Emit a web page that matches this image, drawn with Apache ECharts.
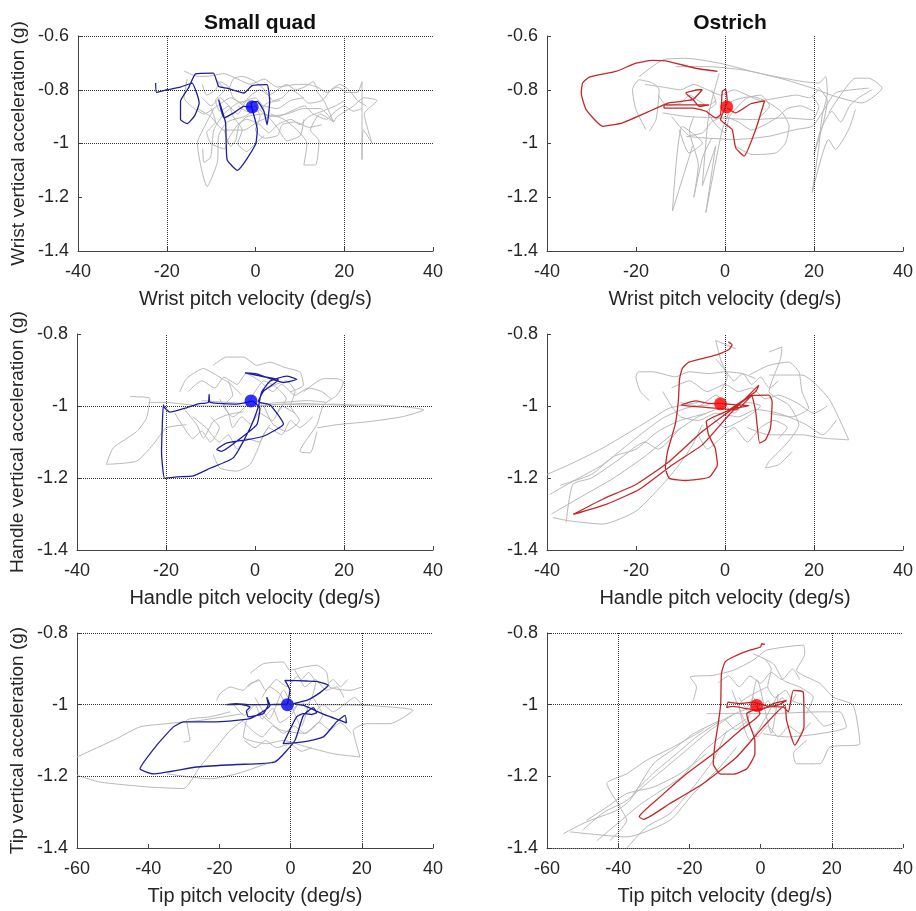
<!DOCTYPE html>
<html>
<head>
<meta charset="utf-8">
<script src="https://cdn.jsdelivr.net/npm/echarts@6/dist/echarts.min.js"></script>
<style>
  html, body { margin: 0; padding: 0; background: #fff; }
  #chart { width: 916px; height: 911px; }
</style>
</head>
<body>
<div id="chart"></div>
<script>
// panel order: wrist quad, wrist ostrich, handle quad, handle ostrich, tip quad, tip ostrich
var columnTitles = ['Small quad', 'Ostrich'];
var yNames = ['Wrist vertical acceleration (g)', 'Handle vertical acceleration (g)', 'Tip vertical acceleration (g)'];
var xNames = ['Wrist pitch velocity (deg/s)', 'Handle pitch velocity (deg/s)', 'Tip pitch velocity (deg/s)'];
var xMin = [-40, -40, -60];
var xMax = [40, 40, 40];
var yMin = [-1.4, -1.4, -1.4];
var yMax = [-0.6, -0.8, -0.8];

// dotted reference lines per panel
var refX = [[-20, 20], [0, 20], [-20, 20], [0, 20], [0, 20], [-40, 20]];
var refY = [[-0.6, -0.8, -1], [], [-1, -1.2], [], [-0.8, -1, -1.2], [-0.8, -1, -1.4]];

// mean point per panel
var meanPts = [[-0.75, -0.864], [0.4, -0.864], [-0.9, -0.986], [-1, -0.994], [-0.9, -1.0], [-1.1, -1.002]];

// highlighted trials
var wristQuad = [[-22.5,-0.775],[-22.3,-0.81],[-19.9,-0.80],[-16.9,-0.79],[-14.3,-0.775],[-13.3,-0.81],[-12.7,-0.85],[-13.7,-0.896],[-15.4,-0.926],[-16.9,-0.911],[-16.9,-0.843],[-15,-0.79],[-13.5,-0.741],[-9.5,-0.738],[-8.3,-0.788],[-6.4,-0.794],[-2.6,-0.812],[-0.75,-0.785],[2.6,-0.781],[3.2,-0.843],[2.6,-0.93],[1.9,-0.88],[0.4,-0.843],[-1,-0.85],[0.4,-0.948],[0,-1.004],[-4.1,-1.10],[-6.4,-1.06],[-6.75,-0.923],[-8.3,-0.837],[-7.1,-0.905],[-4.9,-0.886],[-2.6,-0.862],[-0.7,-0.865]];
var wristOstrich = [[-1.7,-0.732],[-6.6,-0.72],[-12.6,-0.695],[-16.3,-0.691],[-20,-0.701],[-24.5,-0.732],[-30.5,-0.753],[-32,-0.775],[-32.3,-0.812],[-31.2,-0.874],[-27.5,-0.936],[-23,-0.923],[-17.8,-0.886],[-12.6,-0.849],[-7.3,-0.837],[-5.1,-0.80],[-5.8,-0.80],[-8.8,-0.812],[-7,-0.84],[-5.8,-0.862],[-3.6,-0.856],[-7.3,-0.856],[-13.7,-0.856],[-13.7,-0.868],[-7.3,-0.868],[-4.3,-0.88],[-2.1,-0.905],[-1,-0.893],[-0.6,-0.806],[0.15,-0.798],[0.5,-0.843],[-1,-0.911],[1.6,-0.948],[2.4,-1.016],[4.3,-1.047],[6.9,-0.948],[8.9,-0.841],[5.8,-0.852],[2.4,-0.886],[0.5,-0.868]];
var handleQuad = [[-0.5,-0.986],[-4.1,-0.995],[-10.1,-0.99],[-10.3,-0.968],[-10.5,-0.99],[-12.75,-0.994],[-15.4,-1.005],[-19.1,-1.017],[-20.3,-1.005],[-20.6,-0.997],[-21,-1.126],[-20.3,-1.201],[-17.6,-1.197],[-13.9,-1.194],[-10.1,-1.173],[-4.9,-1.144],[-1.1,-1.061],[0.75,-1.002],[1.5,-0.961],[3.4,-0.931],[7.1,-0.917],[9.4,-0.926],[6.4,-0.935],[3.4,-0.924],[0.4,-0.911],[-2.25,-0.908],[0.4,-0.915],[5.25,-0.928],[1.9,-0.959],[0.75,-0.988],[3.4,-0.997],[6.4,-1.05],[1.9,-1.084],[-1.9,-1.094],[-6.4,-1.103],[-8.6,-1.121],[-7.5,-1.126],[-4.1,-1.098],[0.4,-1.052],[1.1,-1.006],[-0.5,-0.986]];
var handleOstrich = [[0.75,-0.822],[1.6,-0.83],[0.9,-0.843],[-2.1,-0.859],[-8.1,-0.878],[-9.6,-0.896],[-10.2,-0.924],[-10.5,-0.988],[-11.2,-1.052],[-12.9,-1.126],[-13.4,-1.172],[-12.5,-1.201],[-8.8,-1.207],[-3.6,-1.198],[-1.7,-1.163],[-2.2,-1.117],[-3.7,-1.08],[-4.2,-1.043],[-0.6,-1.02],[2.4,-1.006],[5.4,-0.999],[2.4,-0.997],[-1,-0.993],[-3.6,-0.993],[-6.6,-0.986],[-9.9,-0.997],[-6.6,-1.002],[-2.1,-1.006],[2.4,-1.011],[5.75,-0.974],[6,-0.97],[6.9,-1.016],[7.8,-1.103],[9.1,-1.094],[10.2,-1.062],[10.6,-0.988],[9.9,-0.97],[6.1,-0.971],[2.4,-1.002],[-5.1,-1.071],[-12.5,-1.154],[-20,-1.218],[-27.5,-1.259],[-34.1,-1.301],[-26.7,-1.273],[-19.3,-1.232],[-11.8,-1.163],[-5.1,-1.108],[0.9,-1.025],[7.6,-0.942],[6.9,-0.96],[0.9,-1.011]];
var tipQuad = [[-0.9,-0.999],[-5.8,-1.0],[-11.4,-1.0],[-15.2,-0.997],[-18,-1.0],[-14.2,-0.999],[-11.4,-1.007],[-12.4,-1.018],[-11.9,-1.034],[-7.7,-1.025],[-6.3,-1.0],[-6.7,-0.979],[-5.8,-1.002],[-11.4,-1.039],[-21.7,-1.048],[-30.1,-1.048],[-32.9,-1.062],[-37.6,-1.113],[-42.3,-1.179],[-38.6,-1.193],[-26.4,-1.174],[-15.2,-1.167],[-4.4,-1.16],[1.2,-1.1],[3.6,-1.03],[6.4,-1.008],[7.3,-1.023],[5.4,-1.027],[3.6,-1.025],[1.7,-1.034],[-2.1,-1.109],[3.6,-1.104],[9.2,-1.09],[12.9,-1.048],[15.3,-1.03],[15.7,-1.051],[13.9,-1.044],[10.1,-1.03],[6.4,-1.014],[3.6,-1.002],[0.75,-0.997],[4.5,-0.988],[8.2,-0.967],[10.6,-0.946],[7.3,-0.935],[4.5,-0.934],[-1.6,-0.932],[-0.2,-0.96],[-0.9,-0.999]];
var tipOstrich = [[1.2,-0.832],[0.3,-0.83],[0,-0.839],[-3,-0.848],[-7.7,-0.867],[-10,-0.881],[-11,-0.913],[-11.2,-0.997],[-11.9,-1.053],[-12.8,-1.109],[-13.3,-1.165],[-11.4,-1.193],[-7.7,-1.194],[-3.9,-1.179],[-1.6,-1.137],[-1.6,-1.1],[-3.2,-1.053],[-3.9,-1.025],[-2.1,-1.016],[1.7,-1.008],[5.4,-0.999],[7.3,-0.988],[3.6,-0.997],[-0.2,-1.016],[-3.9,-1.011],[-7.7,-1.005],[-9.5,-1.008],[-9.1,-0.993],[-5.8,-0.997],[-2.1,-0.993],[2.2,-1.005],[6.4,-1.007],[7.8,-1.02],[9.2,-0.96],[12,-0.965],[12.2,-1.062],[9.6,-1.113],[7.3,-1.044],[6.8,-1.002],[0.75,-1.062],[-6.7,-1.146],[-16.1,-1.22],[-25.5,-1.276],[-32.9,-1.32],[-34.1,-1.313],[-28.3,-1.258],[-20.8,-1.193],[-13.3,-1.137],[-5.8,-1.072],[-0.2,-1.025],[-1.1,-1.002]];

// other trials (grey)
var wristQuadGray = [
  [[13.5,-0.80],[15.4,-0.84],[17.6,-0.92],[14.6,-0.89],[12.4,-0.95],[14.3,-0.99],[13.5,-1.08],[10.9,-1.08],[11.6,-1.0],[9.4,-0.95],[6.4,-0.91],[3.4,-0.89]],
  [[19.9,-0.81],[22.9,-0.81],[24,-0.77],[24,-1.06],[24.3,-0.95],[26.3,-1.0],[24.5,-0.89],[27.4,-0.84],[24.4,-0.83],[22.1,-0.86],[18.4,-0.90],[17.6,-0.92]],
  [[-9.4,-0.87],[-12.8,-0.98],[-13.1,-1.0],[-10.9,-1.16],[-8.6,-1.07],[-8.3,-0.97],[-6.4,-0.92],[-2.6,-0.90],[0.4,-0.87]],
  [[-16.1,-0.73],[-13.1,-0.75],[-10.9,-0.75],[-7.1,-0.74],[-4.1,-0.76],[-1.1,-0.78],[1.9,-0.76],[4.9,-0.79],[9.4,-0.78],[11.6,-0.78],[13.9,-0.79],[16.1,-0.81],[18.4,-0.79],[20.6,-0.81]],
  [[-13.1,-0.87],[-10.1,-0.90],[-7.1,-0.95],[-2.6,-0.95],[0.4,-0.92],[3.4,-0.90],[7.1,-0.89],[10.9,-0.87],[14.6,-0.87],[17.6,-0.92]],
  [[-11.9,-1.02],[-11.6,-1.07],[-10.1,-1.05],[-9.4,-0.95],[-7.1,-0.89],[-4.1,-0.85],[-1.1,-0.84],[1.9,-0.86],[4.9,-0.87],[7.9,-0.84],[10.9,-0.83]],
  [[-15.4,-0.76],[-16.1,-0.83],[-14.6,-0.86],[-11.6,-0.89],[-8.6,-0.86],[-5.6,-0.83],[-2.6,-0.86],[0.4,-0.88],[2.6,-0.85],[5.6,-0.84]],
  [[-7.1,-0.95],[-5.6,-1.01],[-4.5,-0.99],[-3.7,-0.93],[-1.9,-0.90],[1.9,-0.89],[4.9,-0.94],[7.1,-0.99],[10.1,-0.97],[10.9,-0.91]],
  [[-12,-0.78],[-11,-0.82],[-9,-0.80],[-8,-0.77],[-6,-0.79],[-5,-0.83],[-3,-0.85],[-1,-0.82],[1,-0.80],[3,-0.82],[5,-0.80],[7,-0.78],[9,-0.80],[11,-0.79],[13,-0.77],[14,-0.80]],
  [[-10,-0.87],[-9,-0.92],[-11,-0.96],[-10,-1.0],[-7,-1.02],[-6,-0.98],[-4,-0.93],[-2,-0.91],[1,-0.93],[3,-0.96],[5,-0.93],[8,-0.91],[10,-0.93],[12,-0.90],[15,-0.88],[18,-0.86],[20,-0.84]],
  [[-6,-0.80],[-5,-0.76],[-3,-0.75],[0,-0.77],[2,-0.80],[4,-0.84],[6,-0.83],[8,-0.80],[10,-0.82],[12,-0.85],[15,-0.84],[17,-0.80],[19,-0.78],[21,-0.80],[23,-0.84],[25,-0.86]],
  [[-4,-0.86],[-2,-0.88],[0,-0.86],[2,-0.89],[5,-0.90],[8,-0.88],[11,-0.86],[13,-0.89],[16,-0.91],[18,-0.88],[20,-0.86],[22,-0.88],[24,-0.87]],
  [[-12,-0.83],[-10,-0.86],[-8,-0.83],[-6,-0.86],[-4,-0.89],[-2,-0.84],[0,-0.83],[2,-0.87]],
  [[0,-0.86],[1,-0.90],[0,-0.95],[2,-0.98],[5,-0.97],[6,-0.93],[9,-0.92],[12,-0.94],[15,-0.93]],
  [[-9,-0.76],[-7,-0.80],[-9,-0.84],[-8,-0.88],[-6,-0.86],[-5,-0.90],[-3,-0.95],[-4,-1.0],[-2,-1.03],[0,-1.0],[2,-0.97]]
];
var wristOstrichGray = [
  [[-19.3,-0.751],[-14,-0.689],[-8.8,-0.683],[-1.3,-0.701],[6.1,-0.732],[13.6,-0.763],[19.6,-0.794],[24.8,-0.825],[30.8,-0.849],[35.3,-0.794],[32.3,-0.757],[29.3,-0.757],[26.3,-0.812],[23.3,-0.886]],
  [[-11.1,-0.714],[-3.6,-0.714],[3.9,-0.726],[11.4,-0.751],[17.3,-0.769],[21.1,-0.775],[22.6,-0.751],[23,-0.812],[21.8,-0.899],[21.1,-1.01],[19.6,-1.183],[23.3,-0.985],[24.8,-1.022],[27.8,-0.948],[29.3,-0.874]],
  [[-17.8,-0.948],[-20,-0.874],[-20.8,-0.8],[-19.3,-0.763],[-16.3,-0.775],[-14.8,-0.8],[-15.5,-0.911],[-17,-0.954]],
  [[-1.3,-0.738],[-3.6,-0.886],[-5.1,-1.158],[-2.1,-1.01],[-4.3,-1.257],[-0.6,-0.948],[0.9,-0.886]],
  [[-10.3,-0.948],[-8.1,-1.035],[-5.1,-0.998],[-9.6,-0.936],[-11.8,-1.251],[-7.3,-1.01]],
  [[-8.8,-0.973],[-5.1,-0.979],[2.4,-0.985],[9.9,-0.973],[15.9,-0.948],[19.6,-0.936],[21.8,-0.886],[24.8,-0.812],[28.6,-0.80],[32.3,-0.794]],
  [[2.4,-1.01],[6.1,-1.041],[11.4,-1.035],[13.6,-0.998],[14.4,-0.936],[12.9,-0.886],[9.9,-0.849],[6.1,-0.825],[2.4,-0.837],[-0.6,-0.862]],
  [[-14,-0.886],[-8.8,-0.899],[-1.3,-0.905],[6.1,-0.911],[13.6,-0.905],[19.6,-0.911],[21.1,-0.862],[19.6,-0.825]],
  [[-18,-0.78],[-14,-0.79],[-10,-0.80],[-7,-0.78],[-4,-0.80],[-1,-0.82],[2,-0.80],[5,-0.82],[8,-0.84],[12,-0.83],[16,-0.82],[19,-0.83],[21,-0.80]],
  [[-12,-0.90],[-10,-0.94],[-8,-0.97],[-5,-0.96],[-3,-0.92],[0,-0.90],[3,-0.92],[6,-0.95],[9,-0.93],[12,-0.90],[14,-0.87],[17,-0.86],[20,-0.88]],
  [[-3,-0.80],[-2,-0.85],[-4,-0.88],[-2,-0.93],[0,-0.96],[1,-0.90],[3,-0.86],[5,-0.83],[8,-0.82],[10,-0.86],[8,-0.90]],
  [[21,-0.79],[23,-0.84],[22,-0.93],[20,-1.04],[21.5,-0.95],[24,-0.88],[26,-0.92],[28,-0.86],[30,-0.83],[33,-0.80]],
  [[-7,-0.90],[-8,-0.95],[-6,-1.08],[-7,-1.20],[-5,-1.05],[-3,-0.98]],
  [[-15,-0.82],[-13,-0.86],[-10,-0.85],[-8,-0.82],[-6,-0.84],[-4,-0.86],[-2,-0.84]]
];
var handleQuadGray = [
  [[0.4,-1.0],[10.9,-0.993],[18.4,-0.997],[25.9,-0.997],[33.4,-1.002],[37.9,-1.011],[33.4,-1.029],[25.9,-1.043],[18.4,-1.052],[13.9,-1.061]],
  [[-28.1,-0.974],[-23.6,-0.979],[-24.4,-1.034],[-26.6,-1.071],[-31.9,-1.117],[-33.4,-1.162],[-26.6,-1.153],[-22.9,-1.107],[-19.9,-1.061],[-15.4,-1.052]],
  [[-9.4,-0.887],[-6.4,-0.864],[-2.6,-0.864],[0.4,-0.887],[3.4,-0.878],[6.4,-0.892],[10.1,-0.906],[10.9,-0.942],[7.9,-0.961]],
  [[-16.9,-0.961],[-15.4,-0.924],[-11.6,-0.896],[-8.6,-0.915],[-5.6,-0.938],[-3,-0.97]],
  [[10.9,-0.961],[15.4,-0.924],[18.4,-0.924],[19.9,-0.933],[18.4,-0.97],[15.4,-0.997],[13.9,-1.052],[10.1,-1.126],[12.4,-1.13],[13.9,-1.071]],
  [[-9.4,-1.135],[-7.9,-1.172],[-4.1,-1.181],[-1.1,-1.162],[0.4,-1.126],[1.9,-1.08],[3.4,-1.052]],
  [[-16.1,-1.006],[-13.1,-1.052],[-11.6,-1.089],[-9.4,-1.043],[-6.4,-1.025],[-2.6,-1.016]],
  [[-12,-0.985],[-6,-0.99],[0,-0.995],[6,-0.99],[12,-0.985],[16,-0.99]],
  [[3,-0.95],[7,-0.93],[9,-0.96],[8,-1.0],[10,-1.04],[7,-1.07],[4,-1.05],[2,-1.0]],
  [[-15,-0.96],[-12,-0.93],[-9,-0.95],[-7,-0.92],[-4,-0.94],[-2,-0.91],[1,-0.93],[4,-0.96],[6,-0.94],[9,-0.97],[12,-0.95],[15,-0.96],[17,-0.98]],
  [[-14,-1.03],[-11,-1.06],[-8,-1.10],[-6,-1.08],[-4,-1.12],[-2,-1.09],[1,-1.10],[3,-1.06],[6,-1.08],[8,-1.04],[10,-1.06],[13,-1.03]],
  [[-8,-0.98],[-6,-1.02],[-5,-1.06],[-3,-1.03],[-1,-1.05],[1,-1.02],[4,-1.04],[6,-1.00],[9,-1.02]],
  [[-24,-0.99],[-20,-0.99],[-16,-0.995],[-12,-1.0],[-6,-1.0],[0,-1.0],[6,-0.995],[12,-0.997],[18,-0.995],[23,-1.0]],
  [[-6,-0.93],[-5,-0.97],[-7,-1.0],[-5,-1.03],[-2,-1.0],[0,-0.96],[2,-0.93],[5,-0.95],[7,-0.98],[5,-1.02]],
  [[-18,-1.02],[-16,-1.06],[-14,-1.09],[-12,-1.07],[-10,-1.10],[-8,-1.06],[-10,-1.03]]
];
var handleOstrichGray = [
  [[-39.4,-1.246],[-34.2,-1.209],[-27.5,-1.163],[-20,-1.089],[-14,-1.034],[-8.8,-1.006],[-3.6,-0.997]],
  [[-38.7,-1.31],[-35,-1.319],[-27.5,-1.328],[-20,-1.292],[-14,-1.218],[-10.3,-1.163],[-7.3,-1.108],[-5.1,-1.052]],
  [[-40,-1.19],[-35,-1.163],[-27.5,-1.117],[-20,-1.062],[-16.3,-1.034],[-12.5,-1.006],[-6,-0.99]],
  [[-35.7,-1.324],[-34.2,-1.218],[-30,-1.2],[-24,-1.15],[-18,-1.1],[-15,-1.12],[-10,-1.06]],
  [[-17,-0.985],[-19,-0.96],[-20,-0.92],[-19.5,-0.905],[-16.3,-0.905],[-11.1,-0.919],[-8.1,-0.905],[-3.6,-0.91],[0.15,-0.905],[3.9,-0.91],[6.9,-0.924]],
  [[9.9,-0.914],[17.3,-0.914],[23.3,-0.979],[27.8,-1.094],[21.8,-1.089],[17.3,-1.08],[9.9,-1.08],[5,-1.06]],
  [[9.9,-0.85],[12.8,-0.836],[12.5,-0.868],[9.9,-0.96],[14.3,-0.997],[16.6,-1.052],[14.3,-1.098],[9.9,-1.154],[9.1,-1.172],[12.1,-1.163],[15.1,-1.126]],
  [[2.4,-0.841],[-2.1,-0.818],[-1,-0.87],[0.5,-0.92],[-1,-0.96]],
  [[5.4,-0.914],[9.9,-0.887],[14.3,-0.878],[16.6,-0.905],[17.3,-0.96],[18.8,-1.006],[15,-1.03],[10,-1.02]],
  [[-10,-0.99],[-6,-1.0],[-2,-0.97],[2,-1.02],[5,-0.99],[8,-1.0],[5,-1.03],[0,-1.06],[-3,-1.03]],
  [[-39,-1.30],[-32,-1.25],[-25,-1.20],[-18,-1.14],[-12,-1.08],[-6,-1.03],[0,-1.0]],
  [[-37,-1.22],[-30,-1.19],[-25,-1.14],[-20,-1.12],[-15,-1.07],[-10,-1.04],[-4,-1.02]],
  [[-12,-0.95],[-8,-0.93],[-4,-0.96],[0,-0.94],[3,-0.96],[6,-0.95],[9,-0.98],[12,-0.97],[16,-0.99],[20,-1.02],[23,-1.0]],
  [[-6,-1.08],[-4,-1.12],[-1,-1.09],[2,-1.06],[5,-1.10],[8,-1.06],[11,-1.04],[14,-1.06],[12,-1.09]],
  [[-14,-0.96],[-12,-1.0],[-10,-1.03],[-6,-1.04],[-2,-1.02],[3,-1.03],[7,-1.01],[12,-1.02],[18,-1.05],[22,-1.08],[25,-1.04]],
  [[-2,-0.87],[0,-0.90],[2,-0.93],[4,-0.91],[6,-0.94],[8,-0.92],[10,-0.95],[12,-0.93]]
];
var tipQuadGray = [
  [[-60,-1.146],[-48.9,-1.095],[-42.3,-1.062],[-34.8,-1.053],[-25.5,-1.044],[-18.9,-1.034],[-13.3,-1.025]],
  [[-60,-1.197],[-53.5,-1.216],[-39.5,-1.23],[-30.1,-1.234],[-25.5,-1.174],[-20.8,-1.118],[-17,-1.072],[-13.3,-1.044]],
  [[-34.8,-1.193],[-22.7,-1.207],[-15.2,-1.193],[-3.9,-1.155]],
  [[-11.4,-0.913],[-7.7,-0.886],[-2.1,-0.881],[-0.2,-0.904],[3.6,-0.895],[7.3,-0.89],[10.1,-0.909],[11,-0.951],[16.7,-0.96],[19.9,-0.951]],
  [[-12.4,-1.044],[-13.3,-1.09],[-6.7,-1.109],[-2.1,-1.1],[4.5,-1.118],[12,-1.137],[19.5,-1.146],[17.6,-1.072],[21.3,-1.053],[27.9,-1.053],[34.4,-1.016],[21.3,-1.002],[7.3,-1.0]],
  [[-20.8,-0.988],[-19.8,-0.969],[-17,-0.951],[-13.3,-0.96],[-11.4,-0.941],[-8.6,-0.932]],
  [[-30.1,-1.104],[-28.3,-1.1],[-29.2,-1.044],[-22.7,-1.034],[-17,-1.02]],
  [[-20,-1.0],[-10,-1.0],[0,-0.998],[10,-1.0],[22,-1.0]],
  [[-10,-0.98],[-6,-1.04],[-2,-0.96],[3,-1.06],[6,-0.98],[9,-1.03],[4,-1.08],[-3,-1.07],[-8,-1.03]],
  [[-12,-0.95],[-9,-0.93],[-7,-0.96],[-4,-0.93],[-1,-0.95],[2,-0.92],[4,-0.95],[7,-0.93],[10,-0.96],[13,-0.95],[15,-0.98]],
  [[-14,-1.04],[-11,-1.07],[-8,-1.09],[-5,-1.06],[-2,-1.08],[1,-1.06],[4,-1.08],[8,-1.05],[11,-1.07],[14,-1.05],[17,-1.08]],
  [[-8,-0.98],[-6,-0.95],[-3,-0.97],[0,-1.02],[3,-0.99],[6,-1.03],[9,-1.00],[12,-1.02],[15,-1.0],[18,-0.98],[20,-1.0]],
  [[-16,-1.0],[-13,-1.03],[-10,-1.0],[-8,-1.04],[-5,-1.01],[-3,-1.05],[0,-1.03],[2,-1.0]],
  [[1,-0.90],[3,-0.93],[5,-0.91],[7,-0.94],[6,-0.98],[9,-0.96],[12,-0.93],[14,-0.95],[16,-0.93]],
  [[-13,-1.1],[-10,-1.12],[-7,-1.10],[-4,-1.12],[0,-1.11],[3,-1.13],[6,-1.12]]
];
var tipOstrichGray = [
  [[-55.4,-1.36],[-48.9,-1.327],[-40.4,-1.295],[-36.7,-1.267],[-30.1,-1.165],[-23.6,-1.118],[-18.9,-1.081],[-11.4,-1.044]],
  [[-42.3,-1.379],[-37.6,-1.323],[-39.5,-1.286],[-43.2,-1.22],[-37.6,-1.193],[-32,-1.155],[-24.5,-1.118],[-16,-1.07]],
  [[-53.5,-1.355],[-37.6,-1.369],[-25.5,-1.323],[-18.9,-1.248],[-11.4,-1.174],[-6.7,-1.118]],
  [[-37.6,-1.4],[-32,-1.341],[-25.5,-1.304],[-18.9,-1.23],[-13.3,-1.155],[-9.5,-1.072]],
  [[-48.9,-1.323],[-43.2,-1.286],[-37.6,-1.248],[-30.1,-1.23],[-22.7,-1.193],[-15.2,-1.137]],
  [[-18.9,-0.988],[-18,-0.951],[-19.8,-0.923],[-13.3,-0.918],[-7.7,-0.904],[-2.1,-0.876],[1.7,-0.848],[12,-0.834],[12.4,-0.858],[10.1,-0.904],[16.7,-0.941],[20.4,-0.979],[26,-1.002],[27.9,-1.109],[19.5,-1.118],[16.7,-1.165],[10.1,-1.165],[9.2,-1.137],[12.9,-1.1]],
  [[-15.2,-1.025],[-6.7,-1.025],[2.6,-1.025],[16.7,-1.02],[22.3,-1.02],[24.1,-1.062],[16.7,-1.081],[7.3,-1.09],[0.75,-1.081]],
  [[-2.1,-0.858],[3.6,-0.886],[6.4,-0.932],[11,-0.951],[14.8,-0.979],[12.9,-1.025]],
  [[-8,-0.96],[-4,-1.05],[-1,-0.93],[3,-1.08],[5,-0.97],[-3,-1.1],[-6,-1.0],[2,-0.95]],
  [[-50,-1.35],[-44,-1.30],[-38,-1.27],[-32,-1.22],[-26,-1.17],[-20,-1.12],[-14,-1.07],[-8,-1.03]],
  [[-46,-1.38],[-40,-1.33],[-34,-1.28],[-28,-1.24],[-22,-1.20],[-16,-1.13],[-10,-1.08],[-4,-1.04]],
  [[-36,-1.25],[-30,-1.19],[-24,-1.14],[-18,-1.09],[-12,-1.05],[-6,-1.02],[0,-1.0]],
  [[-12,-0.94],[-9,-0.92],[-6,-0.95],[-3,-0.92],[0,-0.94],[3,-0.91],[6,-0.93],[9,-0.90],[11,-0.93]],
  [[-10,-1.04],[-7,-1.07],[-4,-1.05],[-1,-1.09],[2,-1.06],[5,-1.09],[8,-1.06],[11,-1.08],[14,-1.05]],
  [[1,-0.87],[3,-0.90],[2,-0.95],[4,-0.98],[7,-0.96],[9,-0.99],[12,-1.0],[15,-1.03],[18,-1.06],[21,-1.05]],
  [[-6,-0.98],[-4,-1.01],[-2,-0.98],[0,-1.02],[2,-0.99],[4,-1.01],[6,-0.98],[8,-1.0],[10,-0.97]]
];

var grayPaths = [wristQuadGray, wristOstrichGray, handleQuadGray, handleOstrichGray, tipQuadGray, tipOstrichGray];
var hiPaths = [wristQuad, wristOstrich, handleQuad, handleOstrich, tipQuad, tipOstrich];

var font = 'Liberation Sans, Arial, sans-serif';
var textColor = '#262626';
var axisColor = '#444';
var grayColor = '#b8b8b8';
var quadLine = '#1e1e9e', quadDot = '#0000ff';
var ostrichLine = '#c62828', ostrichDot = '#ff0000';

// grid boxes [left, top, width, height]
var boxes = [
  [78, 36, 355, 215], [547, 36, 356, 215],
  [77, 334, 356, 216], [547, 334, 356, 216],
  [77, 633, 356, 215], [547, 633, 356, 215]
];

var grids = [], xAxes = [], yAxes = [], series = [];

for (var i = 0; i < 6; i++) {
  var row = Math.floor(i / 2), col = i % 2;
  var b = boxes[i];
  grids.push({ left: b[0], top: b[1], width: b[2], height: b[3], containLabel: false });

  xAxes.push({
    gridIndex: i, type: 'value',
    min: xMin[row], max: xMax[row], interval: 20,
    name: xNames[row], nameLocation: 'middle', nameGap: 38,
    nameTextStyle: { fontSize: 20, color: textColor, fontFamily: font },
    axisLine: { show: true, onZero: false, lineStyle: { color: axisColor, width: 1, type: i === 5 ? 'dotted' : 'solid' } },
    axisTick: { show: true, inside: true, length: 4, lineStyle: { color: axisColor } },
    axisLabel: { fontSize: 18, color: textColor, fontFamily: font, margin: 12 },
    splitLine: { show: false }
  });

  yAxes.push({
    gridIndex: i, type: 'value',
    min: yMin[row], max: yMax[row], interval: 0.2,
    name: col === 0 ? yNames[row] : '', nameLocation: 'middle', nameGap: 50,
    nameTextStyle: { fontSize: 19, color: textColor, fontFamily: font },
    axisLine: { show: true, onZero: false, lineStyle: { color: axisColor, width: 1 } },
    axisTick: { show: true, inside: true, length: 4, lineStyle: { color: axisColor } },
    axisLabel: { fontSize: 18, color: textColor, fontFamily: font, margin: 9 },
    splitLine: { show: false }
  });

  // dotted reference lines
  var refs = refX[i].map(function (v) { return { xAxis: v }; })
    .concat(refY[i].map(function (v) { return { yAxis: v }; }));
  series.push({
    type: 'line', xAxisIndex: i, yAxisIndex: i, data: [], silent: true, z: 1,
    markLine: {
      silent: true, symbol: ['none', 'none'], animation: false,
      label: { show: false },
      lineStyle: { type: 'dotted', color: '#333', width: 1 },
      data: refs
    }
  });

  grayPaths[i].forEach(function (path) {
    series.push({
      type: 'line', xAxisIndex: i, yAxisIndex: i, data: path,
      showSymbol: false, symbol: 'none', silent: true, z: 2, smooth: 0.2,
      lineStyle: { color: grayColor, width: 1 }
    });
  });

  series.push({
    type: 'line', xAxisIndex: i, yAxisIndex: i, data: hiPaths[i],
    showSymbol: false, symbol: 'none', silent: true, z: 3, smooth: 0.15,
    lineStyle: { color: col === 0 ? quadLine : ostrichLine, width: 1.3 }
  });

  series.push({
    type: 'scatter', xAxisIndex: i, yAxisIndex: i, data: [meanPts[i]],
    symbolSize: 13, silent: true, z: 4,
    itemStyle: { color: col === 0 ? quadDot : ostrichDot }
  });
}

var chart = echarts.init(document.getElementById('chart'));
chart.setOption({
  animation: false,
  backgroundColor: '#fff',
  title: [
    { text: columnTitles[0], left: 255, top: 8, textAlign: 'center',
      textStyle: { fontSize: 21, fontWeight: 'bold', color: '#111', fontFamily: font } },
    { text: columnTitles[1], left: 725, top: 8, textAlign: 'center',
      textStyle: { fontSize: 21, fontWeight: 'bold', color: '#111', fontFamily: font } }
  ],
  grid: grids,
  xAxis: xAxes,
  yAxis: yAxes,
  series: series
});
</script>
</body>
</html>
